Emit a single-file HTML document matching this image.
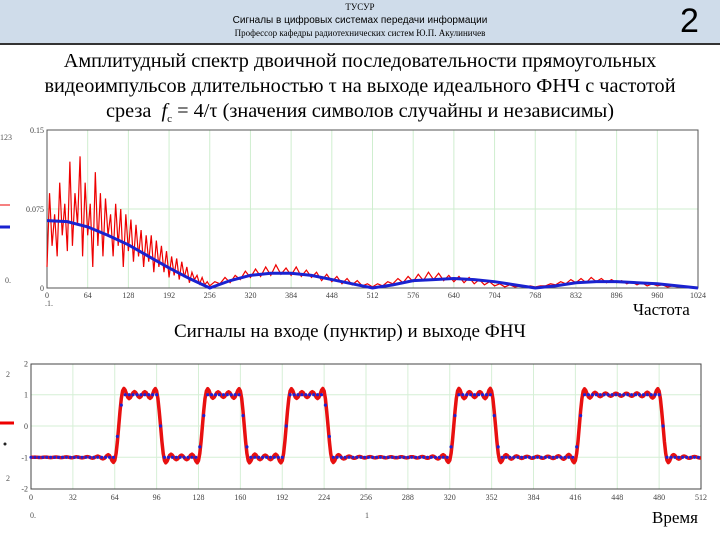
<!DOCTYPE html>
<html><head><meta charset="utf-8">
<style>
body{margin:0;width:720px;height:540px;background:#fff;overflow:hidden;position:relative;font-family:"Liberation Serif","Noto Serif CJK SC",serif}
.hdr{position:absolute;left:0;top:0;width:720px;height:43px;background:#cfdcea;border-bottom:2px solid #333}
.t{position:absolute;white-space:nowrap}
svg{position:absolute;left:0;top:0}
</style></head><body>
<div class="hdr">
 <div class="t" style="left:0;width:720px;text-align:center;top:2px;font-size:9px">ТУСУР</div>
 <div class="t" style="left:0;width:720px;text-align:center;top:15px;font-size:10px;font-family:'Liberation Sans',sans-serif">Сигналы в цифровых системах передачи информации</div>
 <div class="t" style="left:0;width:720px;text-align:center;top:28px;font-size:9px">Профессор кафедры радиотехнических систем Ю.П. Акулиничев</div>
 <div class="t" style="left:680px;top:2px;font-size:34px;font-family:'Liberation Sans',sans-serif">2</div>
</div>
<div class="t" style="left:0;width:720px;text-align:center;top:49px;font-size:20.3px;line-height:25px">Амплитудный спектр двоичной последовательности прямоугольных<br>видеоимпульсов длительностью τ на выходе идеального ФНЧ с частотой<br>среза &nbsp;<i>f</i><sub style="font-size:11px">c</sub> = 4/τ (значения символов случайны и независимы)</div>
<div class="t" style="left:174px;top:321px;font-size:19px">Сигналы на входе (пунктир) и выходе ФНЧ</div>
<div class="t" style="left:633px;top:300px;font-size:17px">Частота</div>
<div class="t" style="left:652px;top:508px;font-size:17px">Время</div>
<svg width="720" height="540" id="svg"></svg>
<script>
// spectrum data
const specTicks=[0,64,128,192,256,320,384,448,512,576,640,704,768,832,896,960,1024];
const redLow=[0.02,0.09,0.04,0.07,0.03,0.10,0.05,0.08,0.035,0.12,0.04,0.09,0.06,0.125,0.03,0.10,0.05,0.08,0.02,0.11,0.04,0.09,0.03,0.085,0.05,0.07,0.03,0.08,0.04,0.075,0.02,0.07,0.035,0.065,0.025,0.06,0.03,0.055,0.02,0.05,0.025,0.05,0.015,0.045,0.02,0.04,0.015,0.035,0.01,0.03,0.012,0.028,0.008,0.025,0.01,0.02,0.005,0.015,0.008,0.012,0.004,0.01,0.003,0.006];
const redHigh=[0.002,0.006,0.004,0.010,0.005,0.012,0.008,0.016,0.010,0.018,0.011,0.020,0.012,0.022,0.013,0.019,0.012,0.020,0.011,0.017,0.010,0.015,0.007,0.013,0.006,0.011,0.004,0.009,0.003,0.007,0.002,0.004,
0.001,0.004,0.002,0.006,0.004,0.009,0.005,0.011,0.006,0.013,0.007,0.015,0.008,0.014,0.007,0.012,0.006,0.011,0.005,0.010,0.004,0.008,0.003,0.006,0.002,0.004,0.001,0.003,0.001,0.002,0.001,0.002,
0.001,0.002,0.002,0.004,0.003,0.006,0.004,0.008,0.005,0.009,0.005,0.010,0.006,0.009,0.005,0.008,0.005,0.007,0.004,0.006,0.003,0.005,0.002,0.004,0.002,0.003,0.001,0.002,0.001,0.002,0.001,0.001];
const blueEnv=[0.064,0.063,0.058,0.050,0.041,0.030,0.019,0.009,0,0.007,0.012,0.014,0.014,0.012,0.008,0.004,0,0.003,0.007,0.008,0.009,0.008,0.006,0.003,0,0.002,0.005,0.006,0.006,0.005,0.004,0.002,0];
// time-domain data
const bits=[-1,-1,1,-1,1,-1,1,-1,-1,-1,1,-1,-1,1,1,-1];
const timeTicks=[0,32,64,96,128,160,192,224,256,288,320,352,384,416,448,480,512];
const yTicks=[2,1,0,-1,-2];

const NS="http://www.w3.org/2000/svg",svg=document.getElementById('svg');
function mk(tag,at,parent){const e=document.createElementNS(NS,tag);for(const k in at)e.setAttribute(k,at[k]);(parent||svg).appendChild(e);return e;}
const X1=k=>47+k*(651/1024), Y1=v=>288-v*(158/0.15);
for(const t of specTicks){
 const g=mk('line',{x1:X1(t),x2:X1(t),y1:130,y2:288,stroke:'#cfeecf','stroke-width':1});
 
 const l=mk('text',{x:X1(t),y:298,'font-size':8,'text-anchor':'middle',fill:'#444'});l.textContent=t;
 
}
mk('line',{x1:47,x2:698,y1:Y1(0.075),y2:Y1(0.075),stroke:'#cfeecf'});
[[0.15,'0.15'],[0.075,'0.075'],[0,'0']].forEach(([v,s])=>{const l=mk('text',{x:44,y:Y1(v)+3,'font-size':8,'text-anchor':'end',fill:'#444'});l.textContent=s;
 });
const fr=mk('rect',{x:47,y:130,width:651,height:158,fill:'none',stroke:'#555','stroke-width':1});

let p='';redLow.forEach((v,i)=>p+=(i?'L':'M')+X1(i*4)+' '+Y1(v));
redHigh.forEach((v,i)=>p+='L'+X1(256+i*8)+' '+Y1(v));
const rs=mk('path',{d:p,fill:'none',stroke:'#e00','stroke-width':1.2});

p='';blueEnv.forEach((v,i)=>p+=(i?'L':'M')+X1(i*32)+' '+Y1(v));
const bs=mk('path',{d:p,fill:'none',stroke:'#1a22d0','stroke-width':3});

[['123',0,140],['0.',5,283],['.1.',45,306]].forEach(([s,x,y])=>{const l=mk('text',{x:x,y:y,'font-size':8,fill:'#555'});l.textContent=s;});
mk('line',{x1:0,x2:10,y1:227,y2:227,stroke:'#1a22d0','stroke-width':3});
mk('line',{x1:0,x2:10,y1:205,y2:205,stroke:'#e00','stroke-width':1});

// bottom chart
const X2=t=>31+t*(670/512), Y2=v=>426-v*31.3;
for(const t of timeTicks){
 const g=mk('line',{x1:X2(t),x2:X2(t),y1:364,y2:489,stroke:'#d6efd6'});
 
 const l=mk('text',{x:X2(t),y:500,'font-size':8,'text-anchor':'middle',fill:'#444'});l.textContent=t;
 
}
for(const v of yTicks){
 if(Math.abs(v)<2)mk('line',{x1:31,x2:701,y1:Y2(v),y2:Y2(v),stroke:'#d6efd6'});
 const l=mk('text',{x:28,y:Y2(v)+3,'font-size':8,'text-anchor':'end',fill:'#444'});l.textContent=v;
 
}
[['2',6,377],['2',6,481],['0.',30,518],['1',365,518]].forEach(([s,x,y])=>{const l=mk('text',{x:x,y:y,'font-size':8,fill:'#555'});l.textContent=s;});
mk('line',{x1:0,x2:14,y1:423,y2:423,stroke:'#e00','stroke-width':3});
mk('circle',{cx:5,cy:444,r:1.5,fill:'#222'});
const fr2=mk('rect',{x:31,y:364,width:670,height:125,fill:'none',stroke:'#444'});

const T=32;
function inp(t){const i=Math.min(bits.length-1,Math.floor(t/T));const prev=i>0?bits[i-1]:bits[0];const d=t-i*T;if(d<6)return prev+(bits[i]-prev)*d/6;return bits[i];}
function Si(x){if(x===0)return 0;let s=0,n=200,h=x/n;for(let k=0;k<n;k++){const u=(k+0.5)*h;s+=Math.sin(u)/u*h;}return s;}
const fc=1/8;
p='';for(let t=0;t<=512;t+=1){let y=bits[0];for(let i=1;i<bits.length;i++){const d=bits[i]-bits[i-1];if(d)y+=d*(0.5+Si(2*Math.PI*fc*(t-i*T-3)+0.001)/Math.PI);}p+=(t?'L':'M')+X2(t).toFixed(1)+' '+Y2(y).toFixed(1);}
const os=mk('path',{d:p,fill:'none',stroke:'#e81010','stroke-width':3.5,'stroke-linejoin':'round'});

for(let t=0;t<=510;t+=3){const c=mk('circle',{cx:X2(t),cy:Y2(inp(t)),r:1.6,fill:'#2020d0'});
 }
</script>
</body></html>
